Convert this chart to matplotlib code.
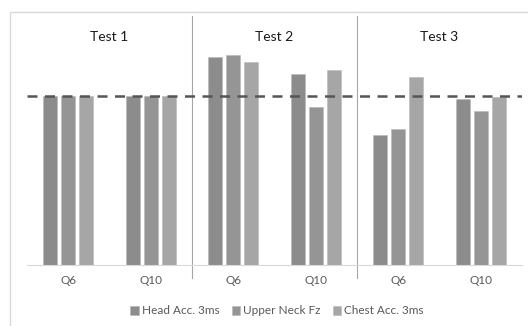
import numpy as np
import matplotlib.pyplot as plt
from matplotlib.patches import Rectangle
from matplotlib.lines import Line2D

plt.rcParams['font.family'] = ['Lato', 'DejaVu Sans']

categories = ["Q6", "Q10", "Q6", "Q10", "Q6", "Q10"]
tests = ["Test 1", "Test 2", "Test 3"]
series = ["Head Acc. 3ms", "Upper Neck Fz", "Chest Acc. 3ms"]
head_acc = [1.00, 1.00, 1.23, 1.13, 0.77, 0.98]
neck_fz = [1.00, 1.00, 1.24, 0.93, 0.80, 0.91]
chest_acc = [1.00, 1.00, 1.20, 1.15, 1.11, 0.99]
reference = 1.0

colors = ["#8c8c8c", "#959595", "#a6a6a6"]

fig = plt.figure(figsize=(5.28, 3.26), dpi=100, facecolor="white")

# outer chart border (cropped on right / bottom)
fig.patches.append(Rectangle((10 / 528, -0.1), 1.2, 1 - 12 / 326 + 0.1,
                             transform=fig.transFigure, fill=False,
                             edgecolor="#d9d9d9", lw=1.0))

ax = fig.add_axes([27 / 528, 1 - 265 / 326, 495 / 528, 249 / 326])
x = np.arange(len(categories))
w = 0.17
step = 0.218
for k, vals in enumerate([head_acc, neck_fz, chest_acc]):
    ax.bar(x + (k - 1) * step, vals, width=w, color=colors[k],
           edgecolor="#b8b8b8", linewidth=0.4, label=series[k], zorder=2)

ax.axhline(reference, color="#555555", lw=1.8, ls=(0, (4, 3)), zorder=3)

ax.set_xlim(-0.5, len(categories) - 0.5)
ax.set_ylim(0, 1.47)
ax.set_yticks([])
ax.set_xticks(x)
ax.set_xticklabels(categories, color="#595959", fontsize=8.5)
ax.tick_params(axis="x", length=0, pad=7)
for s in ["top", "right", "left"]:
    ax.spines[s].set_visible(False)
ax.spines["bottom"].set_color("#d9d9d9")

# test separators and titles
trans = ax.get_xaxis_transform()
for sep in [1.5, 3.5]:
    ax.add_line(Line2D([sep, sep], [-13 / 249, 1.0], transform=trans,
                       color="#a6a6a6", lw=0.8, clip_on=False))
for i, t in enumerate(tests):
    ax.text(2 * i + 0.5, 0.915, t, transform=trans, ha="center",
            va="center", fontsize=10, color="#1a1a1a")

fig.legend(loc="center", bbox_to_anchor=(0.525, 1 - 311 / 326), ncol=3,
           frameon=False, fontsize=8.5, handlelength=0.7, handleheight=0.7,
           handletextpad=0.3, columnspacing=1.0, labelcolor="#595959")

fig.savefig("out.png", dpi=100)
